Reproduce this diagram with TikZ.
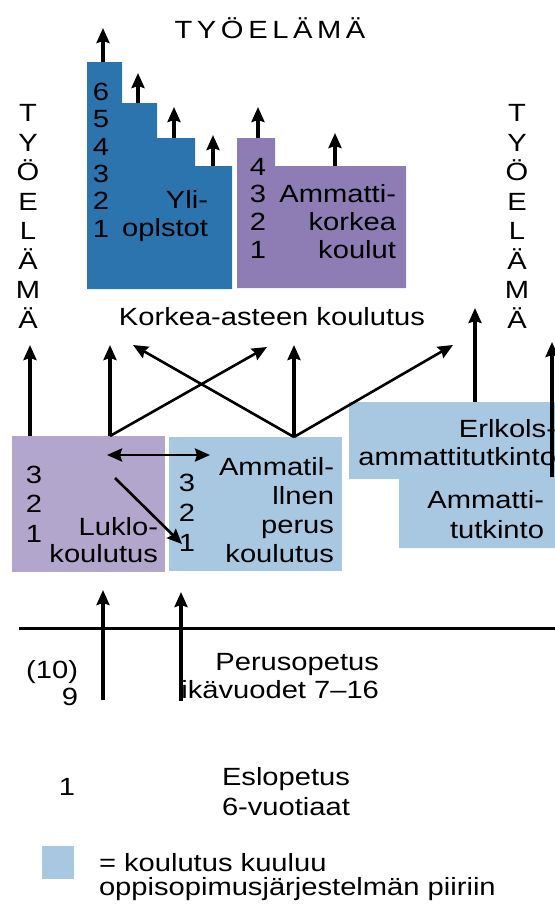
\documentclass[tikz,border=0pt]{standalone}
\usepackage{fontspec}
\setmainfont{Liberation Sans}[FakeStretch=1.17]
\usetikzlibrary{arrows.meta}
\definecolor{uniblue}{HTML}{2B74AE}
\definecolor{amkpurple}{HTML}{8E7DB5}
\definecolor{lukiopurple}{HTML}{B2A6CC}
\definecolor{lightblue}{HTML}{A8C8E2}
\begin{document}
\begin{tikzpicture}[x=1bp,y=-1bp,
  every node/.style={inner sep=0pt, outer sep=0pt},
  txt/.style={font=\fontsize{25}{#1}\selectfont},
  txt/.default=28,
  thickarr/.style={line width=3.6bp, -{Stealth[length=15bp,width=13bp,inset=2bp]}},
  thinarr/.style={line width=2.6bp, -{Stealth[length=15bp,width=13bp,inset=2bp]}},
  dblarr/.style={line width=2.8bp, {Stealth[length=15bp,width=13bp,inset=2bp]}-{Stealth[length=15bp,width=13bp,inset=2bp]}},
  ruleline/.style={line width=3bp}
]
\useasboundingbox (0,0) rectangle (555,909);

% ---------- top: higher education ----------
\fill[uniblue] (87,62) -- (122,62) -- (122,103) -- (157,103) -- (157,138) -- (195,138)
  -- (195,166) -- (232,166) -- (232,289) -- (87,289) -- cycle;
\fill[amkpurple] (237,138) -- (275,138) -- (275,166) -- (406,166) -- (406,288) -- (237,288) -- cycle;

\node[txt, anchor=base] (title) at (270,38)
  {T\kern4.6bp Y\kern4.6bp Ö\kern4.6bp E\kern4.6bp L\kern4.6bp Ä\kern4.6bp M\kern4.6bp Ä};
\node[txt=29.6, anchor=base, align=center] (tyoL) at (28,328) {T\\Y\\Ö\\E\\L\\Ä\\M\\Ä};
\node[txt=29.6, anchor=base, align=center] (tyoR) at (517,328) {T\\Y\\Ö\\E\\L\\Ä\\M\\Ä};

\node[txt=27.4, anchor=base, align=center] (uninum) at (101,237) {6\\5\\4\\3\\2\\1};
\node[txt=28, anchor=base east, align=right] (uni) at (208,236) {Yli-\\oplstot};
\node[txt=27.7, anchor=base, align=center] (amknum) at (258,258) {4\\3\\2\\1};
\node[txt=27.7, anchor=base east, align=right] (amk) at (396,258) {Ammatti-\\korkea\\koulut};
\node[txt, anchor=base] (korkea) at (272,325) {Korkea-asteen koulutus};

\coordinate (u1) at (103,62);  \coordinate (u1t) at (103,28);
\coordinate (u2) at (138,103); \coordinate (u2t) at (138,73);
\coordinate (u3) at (174,138); \coordinate (u3t) at (174,107);
\coordinate (u4) at (213,166); \coordinate (u4t) at (213,135);
\coordinate (a1) at (258,138); \coordinate (a1t) at (258,107);
\coordinate (a2) at (335,166); \coordinate (a2t) at (335,133);
\foreach \s in {u1,u2,u3,u4,a1,a2} \draw[thickarr] (\s) -- (\s t);

% ---------- second level ----------
\node[fill=lukiopurple, minimum width=153bp, minimum height=136bp, anchor=north west] (lukiobox) at (12,436) {};
\node[fill=lightblue, minimum width=173bp, minimum height=134bp, anchor=north west] (ammbox) at (169,437) {};
\fill[lightblue] (349,402) -- (555,402) -- (555,548) -- (399,548) -- (399,479) -- (349,479) -- cycle;

\node[txt=29.5, anchor=base, align=center] (lukionum) at (34,542) {3\\2\\1};
\node[txt=27, anchor=base east, align=right] (lukio) at (158,562) {Luklo-\\koulutus};
\node[txt=30, anchor=base, align=center] (ammnum) at (187,551) {3\\2\\1};
\node[txt=29, anchor=base east, align=right] (amm) at (334,562) {Ammatil-\\llnen\\perus\\koulutus};
\node[txt=28, anchor=base east, align=right] (erik) at (556,465) {Erlkols-\\ammattitutkinto};
\node[txt=30, anchor=base east, align=right] (ammt) at (544,538) {Ammatti-\\tutkinto};

\coordinate (l0) at (30,436);  \coordinate (l0t) at (30,345);
\coordinate (l1) at (110,436); \coordinate (l1t) at (110,345);
\coordinate (l1d) at (267,347);
\coordinate (p2) at (294,437);
\coordinate (p2l) at (133,345); \coordinate (p2u) at (294,345); \coordinate (p2r) at (453,345);
\draw[thickarr] (l0) -- (l0t);
\draw[thickarr] (l1) -- (l1t);
\draw[thinarr] (l1) -- (l1d);
\draw[thinarr] (p2) -- (p2l);
\draw[thickarr] (p2) -- (p2u);
\draw[thinarr] (p2) -- (p2r);

\coordinate (h1) at (107,455); \coordinate (h2) at (210,455);
\draw[dblarr] (h1) -- (h2);
\coordinate (d1) at (115,478); \coordinate (d2) at (182,544);
\draw[thinarr] (d1) -- (d2);

\coordinate (e1) at (475,402); \coordinate (e1t) at (475,308);
\coordinate (e2) at (552,477); \coordinate (e2t) at (552,342);
\draw[thickarr] (e1) -- (e1t);
\draw[thickarr] (e2) -- (e2t);

% ---------- basic education ----------
\coordinate (r1) at (19,628); \coordinate (r2) at (555,628);
\draw[ruleline] (r1) -- (r2);
\coordinate (b1) at (103,700); \coordinate (b1t) at (103,590);
\coordinate (b2) at (181,701); \coordinate (b2t) at (181,592);
\draw[thickarr] (b1) -- (b1t);
\draw[thickarr] (b2) -- (b2t);

\node[txt=27, anchor=base east, align=right] (years) at (78,705) {(10)\\9};
\node[txt=28, anchor=base east, align=right] (perus) at (379,698) {Perusopetus\\ikävuodet 7–16};
\node[txt, anchor=base east] (one) at (75,795) {1};
\node[txt=30, anchor=base west, align=left] (esi) at (222,815) {Eslopetus\\6-vuotiaat};

\node[fill=lightblue, minimum width=32bp, minimum height=33bp, anchor=north west] (legbox) at (42,846) {};
\node[txt=24, anchor=base west, align=left] (legtext) at (99,895) {= koulutus kuuluu\\oppisopimusjärjestelmän piiriin};
\end{tikzpicture}
\end{document}
